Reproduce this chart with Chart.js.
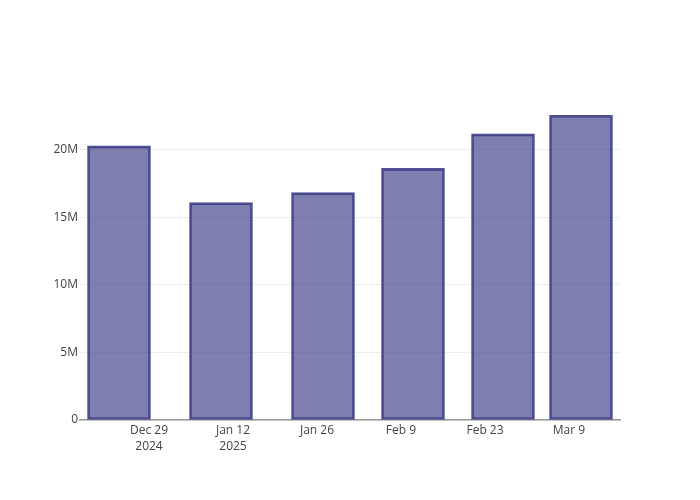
<!DOCTYPE html>
<html>
<head>
<meta charset="utf-8">
<script src="https://cdn.jsdelivr.net/npm/chart.js@4"></script>
<style>
  html, body { margin: 0; padding: 0; background: #fff; }
  #wrap { width: 700px; height: 500px; }
</style>
</head>
<body>
<div id="wrap"><canvas id="chart" width="700" height="500"></canvas></div>
<script>
// bar dates and values
const barDates = ['2024-12-24', '2025-01-10', '2025-01-27', '2025-02-11', '2025-02-26', '2025-03-11'];
const barValues = [20300000, 16100000, 16840000, 18640000, 21190000, 22570000];

// x tick dates and their labels
const tickDates = ['2024-12-29', '2025-01-12', '2025-01-26', '2025-02-09', '2025-02-23', '2025-03-09'];
const tickLabels = [['Dec 29', '2024'], ['Jan 12', '2025'], 'Jan 26', 'Feb 9', 'Feb 23', 'Mar 9'];

const yTicks = [0, 5000000, 10000000, 15000000, 20000000];

const DAY = 86400000;
const origin = Date.UTC(2024, 11, 29);
const toDay = s => {
    const p = s.split('-').map(Number);
    return (Date.UTC(p[0], p[1] - 1, p[2]) - origin) / DAY;
};

const points = barDates.map((d, i) => ({ x: toDay(d), y: barValues[i] }));
const tickDays = tickDates.map(toDay);

const ctx = document.getElementById('chart').getContext('2d');
new Chart(ctx, {
    type: 'bar',
    data: {
        datasets: [{
            data: points,
            backgroundColor: 'rgba(50, 50, 130, 0.63)',
            borderColor: 'rgba(60, 60, 135, 0.9)',
            borderWidth: 2,
            borderSkipped: false,
            barThickness: 63
        }]
    },
    options: {
        responsive: false,
        animation: false,
        layout: { padding: { top: 100, right: 80, left: 0, bottom: 0 } },
        plugins: { legend: { display: false }, tooltip: { enabled: false } },
        scales: {
            x: {
                type: 'linear',
                offset: false,
                min: -11.5,
                max: 78.5,
                afterFit: s => { s.height = 80; },
                afterBuildTicks: s => { s.ticks = tickDays.map(v => ({ value: v })); },
                grid: { display: false, drawTicks: false, offset: false },
                border: { display: true, color: '#999', width: 1.5 },
                ticks: {
                    padding: 2,
                    maxRotation: 0,
                    autoSkip: false,
                    color: '#444',
                    font: { family: 'Open Sans', size: 12, lineHeight: 1.35 },
                    callback: v => {
                        const i = tickDays.indexOf(v);
                        return i >= 0 ? tickLabels[i] : '';
                    }
                }
            },
            y: {
                min: 0,
                max: 23700000,
                afterFit: s => { s.width = 80; },
                afterBuildTicks: s => { s.ticks = yTicks.map(v => ({ value: v })); },
                grid: { color: '#eee', lineWidth: 1, drawTicks: false },
                border: { display: false },
                ticks: {
                    padding: 2,
                    color: '#444',
                    font: { family: 'Open Sans', size: 12 },
                    callback: v => v === 0 ? '0' : (v / 1000000) + 'M'
                }
            }
        }
    }
});
</script>
</body>
</html>
